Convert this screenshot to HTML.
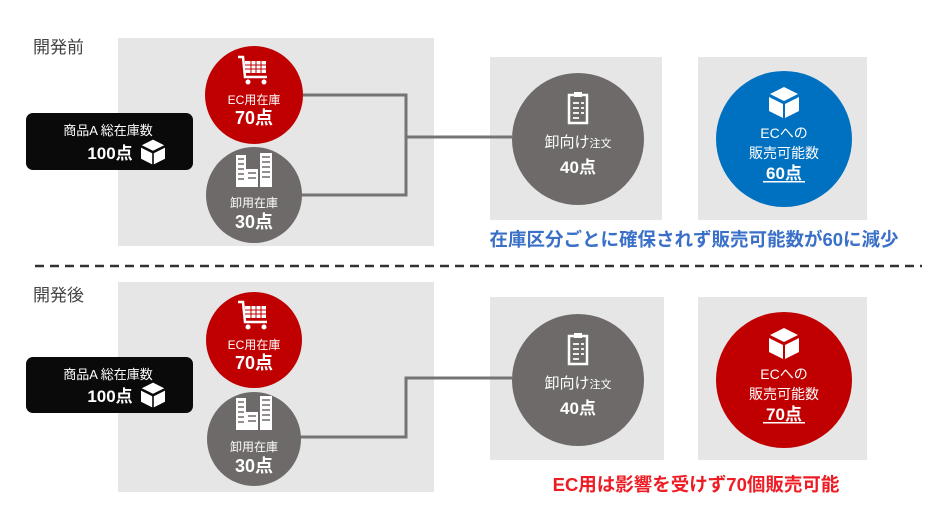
<!DOCTYPE html>
<html><head><meta charset="utf-8"><style>
html,body{margin:0;padding:0;background:#fff;}
svg{display:block;font-family:"Liberation Sans","Noto Sans CJK JP",sans-serif;}
</style></head><body>
<svg width="938" height="529" viewBox="0 0 938 529" xmlns="http://www.w3.org/2000/svg">
<defs>
<g id="cart" fill="none" stroke="#fff" stroke-width="2.5">
  <path d="M-16,-14 L-11,-14 L-9,6 L13,6"/>
  <rect x="-9" y="-10" width="21" height="12" fill="#fff" stroke="none"/>
  <circle cx="-6" cy="11" r="2.5" fill="#fff" stroke="none"/><circle cx="10" cy="11" r="2.5" fill="#fff" stroke="none"/>
  <path d="M-9,-6 H12 M-9,-2 H12 M-3,-10 V2 M2,-10 V2 M7,-10 V2" stroke="#c00000" stroke-width="1"/>
</g>
<g id="bldg" fill="#fff">
  <rect x="-18" y="-18" width="10" height="32"/><rect x="-8" y="-4" width="12" height="18"/><rect x="6" y="-20" width="12" height="34"/>
  <path d="M-16,-14h6M-16,-9h6M-16,-4h6M-16,1h6M-16,6h6M-6,0h8M-6,5h8M8,-16h8M8,-11h8M8,-6h8M8,-1h8M8,4h8" stroke="#6e6a69" stroke-width="1.5"/>
</g>
<g id="clip">
  <rect x="-9" y="-14" width="18" height="28" fill="none" stroke="#fff" stroke-width="2.5"/>
  <rect x="-4" y="-17" width="8" height="5" fill="#fff"/>
  <path d="M-5,-6h6M-5,-1h6M-5,4h6M-5,9h6M3,-6h3M3,-1h3M3,4h3" stroke="#fff" stroke-width="1.8"/>
</g>
<g id="box" fill="#fff">
  <path d="M0,-13 L14,-6 L0,1 L-14,-6Z"/>
  <path d="M-15,-3 L-1,4 L-1,18 L-15,11Z"/>
  <path d="M15,-3 L1,4 L1,18 L15,11Z"/>
</g>
</defs>

<!-- TOP -->
<text x="33" y="53" font-size="17" fill="#444">開発前</text>
<rect x="118" y="38" width="316" height="208" fill="#e6e6e6"/>
<rect x="490" y="57" width="172" height="163" fill="#e6e6e6"/>
<rect x="698" y="57" width="169" height="163" fill="#e6e6e6"/>
<path d="M300,95 H406 V195 H300 M406,137 H512" fill="none" stroke="#747474" stroke-width="3"/>
<rect x="26" y="113" width="167" height="57" rx="7" fill="#0a0a0a"/>
<text x="108" y="135" font-size="13" fill="#fff" text-anchor="middle">商品A 総在庫数</text>
<text x="110" y="159" font-size="17" font-weight="bold" fill="#fff" text-anchor="middle">100点</text>
<use href="#box" transform="translate(153,150) scale(0.8)"/>
<circle cx="254" cy="95" r="49" fill="#c00000"/>
<use href="#cart" transform="translate(254,71)"/>
<text x="254" y="104" font-size="12" fill="#fff" text-anchor="middle">EC用在庫</text>
<text x="254" y="124" font-size="18" font-weight="bold" fill="#fff" text-anchor="middle">70点</text>
<circle cx="254" cy="195" r="48" fill="#6e6a69"/>
<use href="#bldg" transform="translate(254,173)"/>
<text x="254" y="207" font-size="12" fill="#fff" text-anchor="middle">卸用在庫</text>
<text x="254" y="228" font-size="18" font-weight="bold" fill="#fff" text-anchor="middle">30点</text>
<circle cx="578" cy="139" r="66" fill="#6e6a69"/>
<use href="#clip" transform="translate(578,109)"/>
<text x="578" y="147" font-size="15" fill="#fff" text-anchor="middle">卸向け<tspan font-size="11">注文</tspan></text>
<text x="578" y="173" font-size="17" font-weight="bold" fill="#fff" text-anchor="middle">40点</text>
<circle cx="784" cy="139" r="68" fill="#0070c0"/>
<use href="#box" transform="translate(784,100)"/>
<text x="784" y="138" font-size="14" fill="#fff" text-anchor="middle">ECへの</text>
<text x="784" y="158" font-size="14" fill="#fff" text-anchor="middle">販売可能数</text>
<text x="784" y="179" font-size="17" font-weight="bold" fill="#fff" text-anchor="middle">60点</text>
<rect x="763" y="181" width="42" height="1.5" fill="#fff"/>
<text x="694" y="246" font-size="18.5" font-weight="bold" fill="#3a70c8" text-anchor="middle">在庫区分ごとに確保されず販売可能数が60に減少</text>

<line x1="35" y1="266" x2="922" y2="266" stroke="#333" stroke-width="2.5" stroke-dasharray="9,6"/>

<!-- BOTTOM -->
<text x="33" y="301" font-size="17" fill="#444">開発後</text>
<rect x="118" y="282" width="316" height="210" fill="#e6e6e6"/>
<rect x="490" y="297" width="174" height="163" fill="#e6e6e6"/>
<rect x="698" y="297" width="169" height="163" fill="#e6e6e6"/>
<path d="M300,437 H406 V378 H512" fill="none" stroke="#747474" stroke-width="3"/>
<rect x="26" y="357" width="167" height="56" rx="7" fill="#0a0a0a"/>
<text x="108" y="379" font-size="13" fill="#fff" text-anchor="middle">商品A 総在庫数</text>
<text x="110" y="402" font-size="17" font-weight="bold" fill="#fff" text-anchor="middle">100点</text>
<use href="#box" transform="translate(153,393) scale(0.8)"/>
<circle cx="254" cy="340" r="48" fill="#c00000"/>
<use href="#cart" transform="translate(254,316)"/>
<text x="254" y="349" font-size="12" fill="#fff" text-anchor="middle">EC用在庫</text>
<text x="254" y="369" font-size="18" font-weight="bold" fill="#fff" text-anchor="middle">70点</text>
<circle cx="254" cy="439" r="47" fill="#6e6a69"/>
<use href="#bldg" transform="translate(254,416)"/>
<text x="254" y="451" font-size="12" fill="#fff" text-anchor="middle">卸用在庫</text>
<text x="254" y="472" font-size="18" font-weight="bold" fill="#fff" text-anchor="middle">30点</text>
<circle cx="578" cy="380" r="66" fill="#6e6a69"/>
<use href="#clip" transform="translate(578,350)"/>
<text x="578" y="388" font-size="15" fill="#fff" text-anchor="middle">卸向け<tspan font-size="11">注文</tspan></text>
<text x="578" y="414" font-size="17" font-weight="bold" fill="#fff" text-anchor="middle">40点</text>
<circle cx="784" cy="380" r="68" fill="#c00000"/>
<use href="#box" transform="translate(784,341)"/>
<text x="784" y="379" font-size="14" fill="#fff" text-anchor="middle">ECへの</text>
<text x="784" y="399" font-size="14" fill="#fff" text-anchor="middle">販売可能数</text>
<text x="784" y="420" font-size="17" font-weight="bold" fill="#fff" text-anchor="middle">70点</text>
<rect x="763" y="422" width="42" height="1.5" fill="#fff"/>
<text x="696" y="491" font-size="18.5" font-weight="bold" fill="#ee1c24" text-anchor="middle">EC用は影響を受けず70個販売可能</text>
</svg>
</body></html>
